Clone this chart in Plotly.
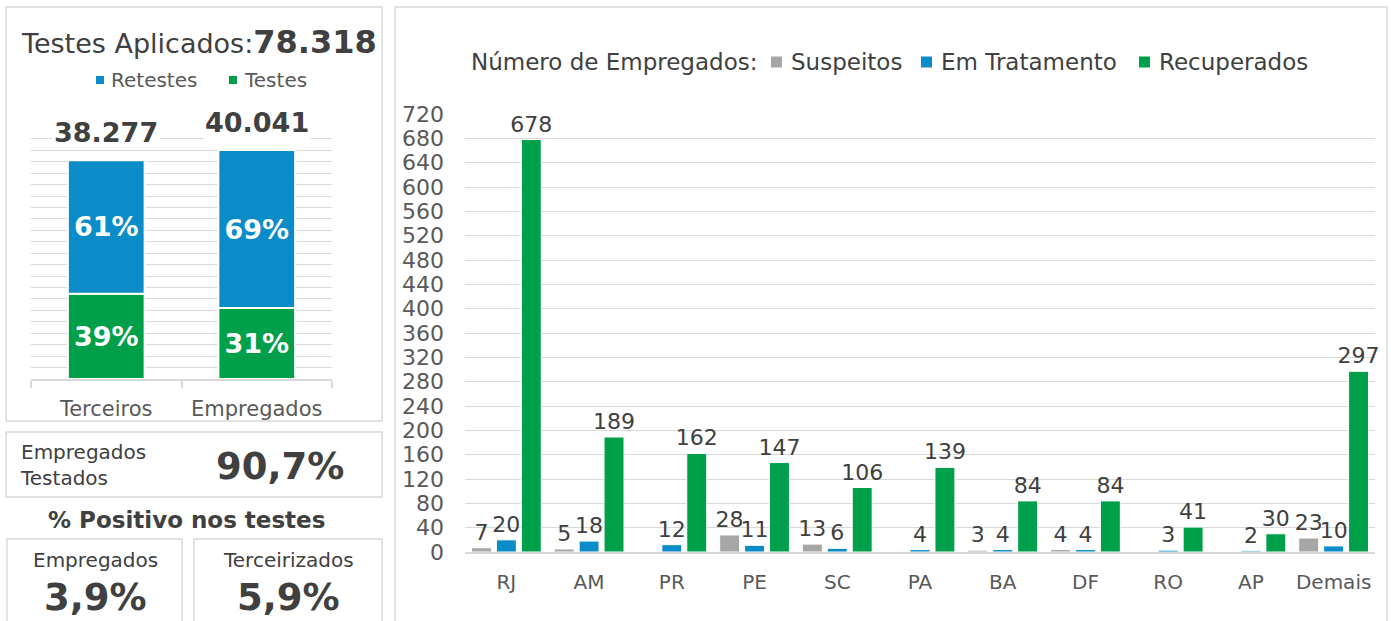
import plotly.graph_objects as go

W, H = 1391, 621
FONT = "DejaVu Sans"
TXT = "#404040"
TICK = "#595959"
GRID = "#d9d9d9"
GRAY = "#A6A6A6"
BLUE = "#0A8CC8"
GREEN = "#00A04A"

# ---------------- data ----------------
left_cats = ["Terceiros", "Empregados"]
left_totals = [38277, 40041]
pct_testes = [39, 31]
pct_retestes = [61, 69]
total_aplicados = "78.318"
total_labels = ["38.277", "40.041"]

empregados_testados = "90,7%"
positivo_empregados = "3,9%"
positivo_terceirizados = "5,9%"

states = ["RJ", "AM", "PR", "PE", "SC", "PA", "BA", "DF", "RO", "AP", "Demais"]
suspeitos = [7, 5, None, 28, 13, None, 3, 4, None, None, 23]
em_tratamento = [20, 18, 12, 11, 6, 4, 4, 4, 3, 2, 10]
recuperados = [678, 189, 162, 147, 106, 139, 84, 84, 41, 30, 297]


def px(x):
    return x / W


def py(y):
    return 1 - y / H


testes_vals = [t * p / 100 for t, p in zip(left_totals, pct_testes)]
retestes_vals = [t * p / 100 for t, p in zip(left_totals, pct_retestes)]

fig = go.Figure()

# ---------- left stacked chart ----------
fig.add_trace(go.Bar(
    x=left_cats, y=testes_vals, base=[0, 0], width=0.51, offset=-0.255,
    marker=dict(color=GREEN, line=dict(color="white", width=2)),
    text=[f"{p}%" for p in pct_testes], textposition="inside",
    insidetextanchor="middle", constraintext="none", textangle=0,
    textfont=dict(family=FONT, size=27, color="white", weight="bold"),
    xaxis="x", yaxis="y", showlegend=False, name="Testes", hoverinfo="skip",
))
fig.add_trace(go.Bar(
    x=left_cats, y=retestes_vals, base=testes_vals, width=0.51, offset=-0.255,
    marker=dict(color=BLUE, line=dict(color="white", width=2)),
    text=[f"{p}%" for p in pct_retestes], textposition="inside",
    insidetextanchor="middle", constraintext="none", textangle=0,
    textfont=dict(family=FONT, size=27, color="white", weight="bold"),
    xaxis="x", yaxis="y", showlegend=False, name="Retestes", hoverinfo="skip",
))

# ---------- right grouped chart ----------
for name, vals, col in [("Suspeitos", suspeitos, GRAY),
                        ("Em Tratamento", em_tratamento, BLUE),
                        ("Recuperados", recuperados, GREEN)]:
    fig.add_trace(go.Bar(
        x=states, y=vals, name=name,
        marker=dict(color=col, line=dict(color="white", width=1)),
        text=[("" if v is None else str(v)) for v in vals],
        textposition="outside", constraintext="none", cliponaxis=False,
        textfont=dict(family=FONT, size=22, color=TXT),
        xaxis="x2", yaxis="y2", showlegend=False, hoverinfo="skip",
    ))

annotations = []
shapes = []

# panel borders
def box(x0, y0, x1, y1):
    shapes.append(dict(type="rect", xref="paper", yref="paper",
                       x0=px(x0), x1=px(x1), y0=py(y1), y1=py(y0),
                       line=dict(color=GRID, width=1.5), fillcolor="rgba(0,0,0,0)",
                       layer="below"))

box(6, 7, 382, 421)
box(395, 7, 1387, 640)
box(6, 432, 382, 497)
box(7, 539, 182, 640)
box(194, 539, 382, 640)

# left title
annotations.append(dict(
    xref="paper", yref="paper", x=px(199), y=py(42), xanchor="center", yanchor="middle",
    text=f"Testes Aplicados:<span style='font-size:32px'><b>{total_aplicados}</b></span>",
    showarrow=False, font=dict(family=FONT, size=27, color=TXT)))

# legends
def legend_item(sq_x0, sq_size, text_x, yc, label, color, size, tcolor=TICK):
    shapes.append(dict(type="rect", xref="paper", yref="paper",
                       x0=px(sq_x0), x1=px(sq_x0 + sq_size),
                       y0=py(yc + sq_size / 2), y1=py(yc - sq_size / 2),
                       fillcolor=color, line=dict(width=0)))
    annotations.append(dict(xref="paper", yref="paper", x=px(text_x), y=py(yc),
                            xanchor="left", yanchor="middle", text=label, showarrow=False,
                            font=dict(family=FONT, size=size, color=tcolor)))

legend_item(96, 8, 109, 80, "Retestes", BLUE, 20)
legend_item(229, 8, 242, 80, "Testes", GREEN, 20)

# totals above left bars
for c, t, lab in zip(left_cats, left_totals, total_labels):
    annotations.append(dict(xref="x", yref="y", x=c, y=t, xanchor="center", yanchor="bottom",
                            yshift=10, text=f"<b>{lab}</b>", showarrow=False,
                            bgcolor="white", borderpad=1,
                            font=dict(family=FONT, size=27, color=TXT)))

# Empregados Testados box
annotations.append(dict(xref="paper", yref="paper", x=px(18), y=py(465), xanchor="left",
                        yanchor="middle", text="Empregados<br>Testados", align="left",
                        showarrow=False, font=dict(family=FONT, size=20, color=TXT)))
annotations.append(dict(xref="paper", yref="paper", x=px(280), y=py(466), xanchor="center",
                        yanchor="middle", text=f"<b>{empregados_testados}</b>",
                        showarrow=False, font=dict(family=FONT, size=37, color=TXT)))

annotations.append(dict(xref="paper", yref="paper", x=px(186), y=py(520), xanchor="center",
                        yanchor="middle", text="<b>% Positivo nos testes</b>",
                        showarrow=False, font=dict(family=FONT, size=23, color=TXT)))

for xc, lab, val in [(95, "Empregados", positivo_empregados),
                     (288, "Terceirizados", positivo_terceirizados)]:
    annotations.append(dict(xref="paper", yref="paper", x=px(xc), y=py(560), xanchor="center",
                            yanchor="middle", text=lab, showarrow=False,
                            font=dict(family=FONT, size=20, color=TXT)))
    annotations.append(dict(xref="paper", yref="paper", x=px(xc), y=py(597), xanchor="center",
                            yanchor="middle", text=f"<b>{val}</b>", showarrow=False,
                            font=dict(family=FONT, size=37, color=TXT)))

annotations.append(dict(xref="paper", yref="paper", x=px(469), y=py(62), xanchor="left",
                        yanchor="middle", text="Número de Empregados:", showarrow=False,
                        font=dict(family=FONT, size=23, color=TXT)))
legend_item(771, 11, 789, 62, "Suspeitos", GRAY, 23, TXT)
legend_item(921, 11, 939, 62, "Em Tratamento", BLUE, 23, TXT)
legend_item(1139, 11, 1157, 62, "Recuperados", GREEN, 23, TXT)

fig.update_layout(
    template="none",
    width=W, height=H,
    margin=dict(l=0, r=0, t=0, b=0, pad=0, autoexpand=False),
    paper_bgcolor="white", plot_bgcolor="white",
    barmode="group", bargap=0.096, bargroupgap=0.2,
    font=dict(family=FONT, color=TXT),
    annotations=annotations, shapes=shapes,
    xaxis=dict(domain=[px(31), px(332)], anchor="y", type="category", automargin=False,
               range=[-0.5, 1.5], showline=True, linecolor=GRID, linewidth=1.5,
               ticks="outside", tickson="boundaries", ticklen=7, tickcolor=GRID,
               tickwidth=1.5, showgrid=False, ticklabelstandoff=10,
               tickfont=dict(family=FONT, size=21, color=TICK)),
    yaxis=dict(domain=[py(379), py(127.4)], anchor="x", range=[0, 44000], dtick=2000,
               automargin=False, showline=False, ticks="",
               showticklabels=False, gridcolor=GRID, gridwidth=1.3, zeroline=False),
    xaxis2=dict(domain=[px(465), px(1375)], anchor="y2", type="category", automargin=False,
                showline=True, linecolor=GRID, linewidth=1.5, showgrid=False,
                ticks="", ticklabelstandoff=11,
                tickfont=dict(family=FONT, size=20, color=TICK)),
    yaxis2=dict(domain=[py(552), py(114)], anchor="x2", range=[0, 720], dtick=40,
                automargin=False, showline=False, ticks="",
                gridcolor=GRID, gridwidth=1.3, zeroline=False, ticklabelstandoff=20,
                tickfont=dict(family=FONT, size=22, color=TICK)),
)

fig.write_html("out.html", config={"displayModeBar": False},
               post_script="document.body.style.margin='0';")
